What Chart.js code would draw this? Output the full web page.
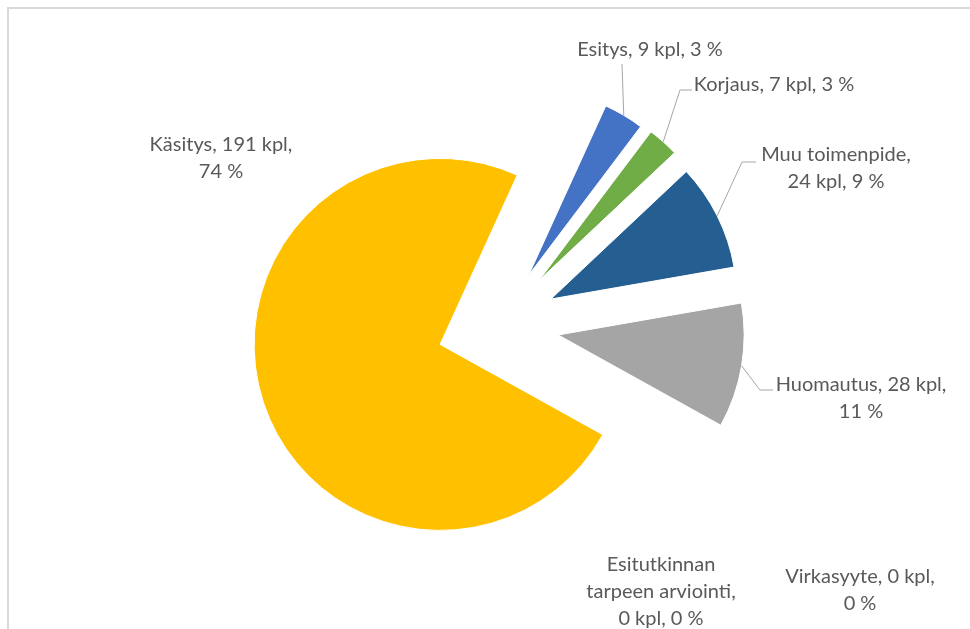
<!DOCTYPE html>
<html>
<head>
<meta charset="utf-8">
<script src="https://cdn.jsdelivr.net/npm/chart.js@4.4.1/dist/chart.umd.min.js"></script>
<style>
  html, body { margin: 0; padding: 0; background: #fff; overflow: hidden; }
  #wrap { position: relative; width: 970px; height: 629px; overflow: hidden; }
  #frame { position: absolute; left: 7px; top: 7px; width: 1100px; height: 800px;
           border-left: 2px solid #d9d9d9; border-top: 2px solid #d9d9d9; }
  canvas { position: absolute; left: 0; top: 0; }
</style>
</head>
<body>
<div id="wrap">
  <div id="frame"></div>
  <canvas id="pieChart" width="970" height="629"></canvas>
</div>
<script>
const categories = ['Esitys', 'Korjaus', 'Muu toimenpide', 'Huomautus', 'Esitutkinnan tarpeen arviointi', 'Virkasyyte', 'Käsitys'];
const counts = [9, 7, 24, 28, 0, 0, 191];
const colors = ['#4472c4', '#70ad47', '#255e91', '#a5a5a5', '#ed7d31', '#5b9bd5', '#ffc000'];

// how far each slice is pulled out from the centre (px)
const explode = [58, 60, 58, 60, 0, 0, 62];

// label placement: centre x, first line y, words per line, leader line points
const labelLayout = [
  { x: 650, y: 50, lines: [5], leader: [[622, 64]] },
  { x: 774, y: 85, lines: [5], leader: [[680, 90], [692, 90]] },
  { x: 836, y: 155, lines: [2, 4], leader: [[742, 162], [756, 162]] },
  { x: 861, y: 385, lines: [3, 2], leader: [[760, 390], [773, 390]] },
  { x: 661, y: 565, lines: [1, 2, 4] },
  { x: 860, y: 577, lines: [3, 2] },
  { x: 221, y: 145, lines: [3, 2] }
];
const lineHeight = 27;
const labelFont = '20px Lato';

const explodePlugin = {
  id: 'explode',
  afterDatasetUpdate(chart, args) {
    const meta = chart.getDatasetMeta(args.index);
    meta.data.forEach((arc, i) => {
      const mid = (arc.startAngle + arc.endAngle) / 2;
      arc.x += Math.cos(mid) * explode[i];
      arc.y += Math.sin(mid) * explode[i];
    });
  }
};

const labelPlugin = {
  id: 'sliceLabels',
  afterDraw(chart) {
    const ctx = chart.ctx;
    const meta = chart.getDatasetMeta(0);
    const total = counts.reduce((a, b) => a + b, 0);
    ctx.save();
    ctx.font = labelFont;
    ctx.fillStyle = '#595959';
    ctx.textAlign = 'center';
    ctx.textBaseline = 'middle';
    categories.forEach((cat, i) => {
      const lay = labelLayout[i];
      const pct = Math.round(counts[i] / total * 100);
      const words = `${cat}, ${counts[i]} kpl, ${pct} %`.split(' ');
      let k = 0;
      lay.lines.forEach((n, j) => {
        ctx.fillText(words.slice(k, k + n).join(' '), lay.x, lay.y + j * lineHeight);
        k += n;
      });
      if (lay.leader) {
        const arc = meta.data[i];
        const mid = (arc.startAngle + arc.endAngle) / 2;
        ctx.beginPath();
        ctx.moveTo(arc.x + Math.cos(mid) * arc.outerRadius, arc.y + Math.sin(mid) * arc.outerRadius);
        lay.leader.forEach(p => ctx.lineTo(p[0], p[1]));
        ctx.strokeStyle = '#a6a6a6';
        ctx.lineWidth = 1;
        ctx.stroke();
      }
    });
    ctx.restore();
  }
};

const ctx = document.getElementById('pieChart').getContext('2d');
const myChart = new Chart(ctx, {
  type: 'pie',
  data: {
    labels: categories,
    datasets: [{
      data: counts,
      backgroundColor: colors,
      borderColor: '#ffffff',
      borderWidth: 1
    }]
  },
  options: {
    responsive: false,
    animation: false,
    events: [],
    rotation: 24.5,
    radius: 186,
    layout: {
      padding: { left: 28, top: 21, right: 0, bottom: 0 }
    },
    plugins: {
      legend: { display: false },
      tooltip: { enabled: false }
    }
  },
  plugins: [explodePlugin, labelPlugin]
});
</script>
</body>
</html>
